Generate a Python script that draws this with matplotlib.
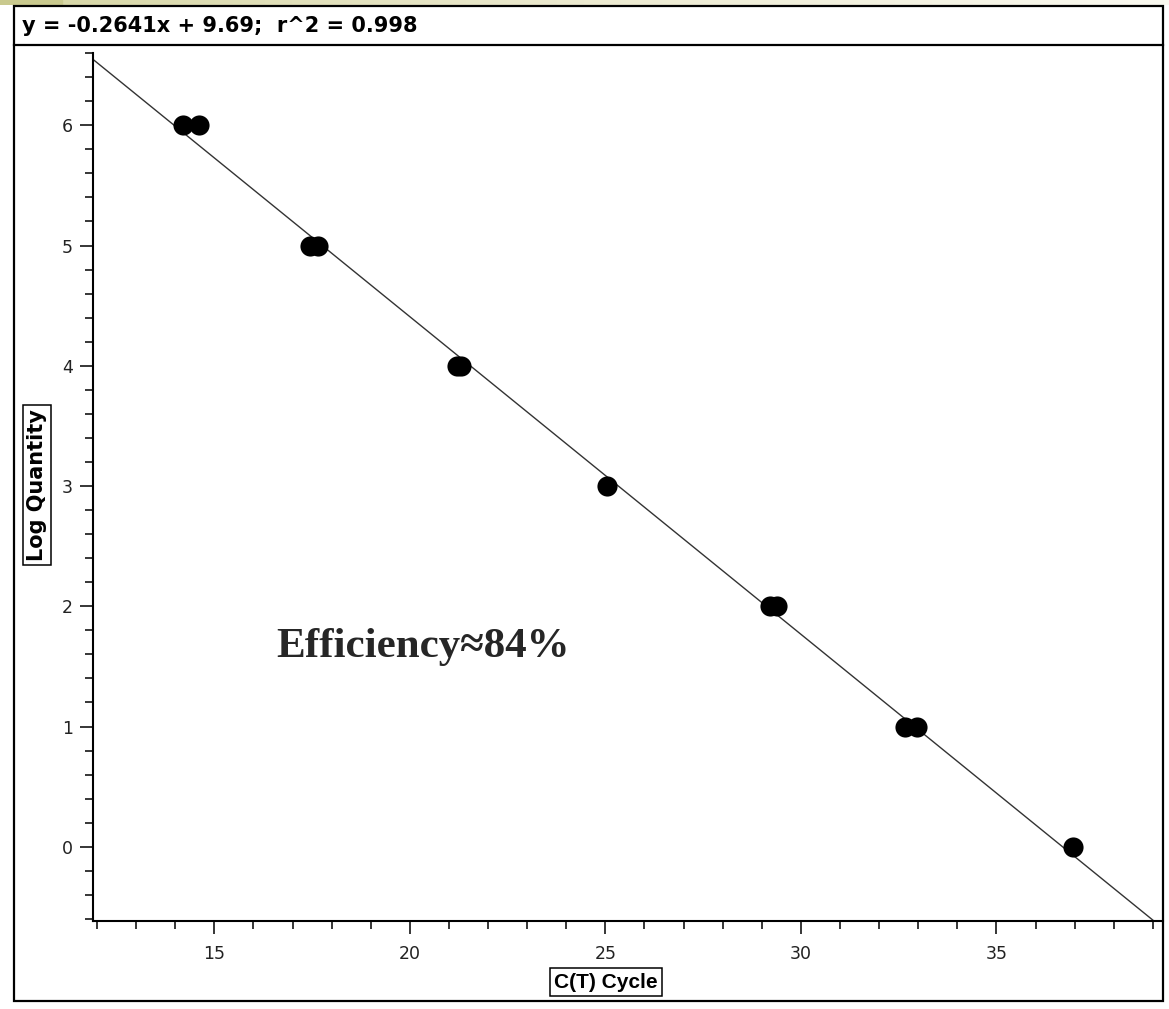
import matplotlib
matplotlib.use("Agg")
import matplotlib.pyplot as plt
import numpy as np
from matplotlib.ticker import MultipleLocator
from matplotlib.patches import Rectangle
from matplotlib.lines import Line2D

# standard curve data (C(T) cycle vs log quantity)
ct = [14.2, 14.6, 17.45, 17.65, 21.2, 21.32, 25.05, 29.22, 29.4, 32.66, 32.97, 36.97]
logq = [6, 6, 5, 5, 4, 4, 3, 2, 2, 1, 1, 0]
slope, intercept, r2 = -0.2641, 9.69, 0.998
x_ticks = [15, 20, 25, 30, 35]
y_ticks = [0, 1, 2, 3, 4, 5, 6]

W, H = 1169, 1009
fig = plt.figure(figsize=(W / 100, H / 100), dpi=100)

def fx(px):
    return px / W

def fy(py):
    return 1 - py / H

# decorative strip at the very top
strip = fig.add_axes([0, fy(5), 1, 5 / H])
grad = np.linspace(0, 1, 256)[None, :]
strip.imshow(grad, aspect="auto", cmap=matplotlib.colors.LinearSegmentedColormap.from_list(
    "s", ["#d6d6a4", "#ecead0", "#faf9f0"]), extent=[0, 1, 0, 1])
strip.add_patch(Rectangle((0, 0), 62 / W, 1, color="#c9c98e"))
strip.set_xlim(0, 1)
strip.axis("off")

# outer frame and title divider
fig.patches.append(Rectangle((fx(14), fy(1001)), fx(1163) - fx(14), fy(6) - fy(1001),
                             transform=fig.transFigure, fill=False, lw=1.6, ec="black"))
fig.lines.append(Line2D([fx(14), fx(1163)], [fy(45), fy(45)], transform=fig.transFigure,
                        lw=1.6, color="black"))
fig.text(fx(22), fy(26), f"y = {slope}x + {intercept};  r^2 = {r2}", fontsize=15,
         fontweight="bold", family="DejaVu Sans", va="center", ha="left")

ax = fig.add_axes([fx(93.3), fy(920.7), fx(1163) - fx(93.3), fy(53) - fy(920.7)])
ax.set_xlim(11.905, 39.26)
ax.set_ylim(-0.615, 6.601)

xs = np.array(ax.get_xlim())
ax.plot(xs, slope * xs + intercept, color="#333333", lw=1.0)
ax.plot(ct, logq, "o", color="black", markersize=14.5, markeredgewidth=0)

for s in ["top", "right"]:
    ax.spines[s].set_visible(False)
for s in ["left", "bottom"]:
    ax.spines[s].set_linewidth(1.5)

ax.set_xticks(x_ticks)
ax.set_yticks(y_ticks)
ax.xaxis.set_minor_locator(MultipleLocator(1))
ax.yaxis.set_minor_locator(MultipleLocator(0.2))
ax.tick_params(which="major", length=9.5, width=1.1, labelsize=12.5, labelcolor="#222222")
ax.tick_params(which="minor", length=5.5, width=1.1)
ax.tick_params(axis="x", which="major", pad=8)
ax.tick_params(axis="y", which="major", pad=5)

fig.text(fx(37), fy(485), "Log Quantity", rotation=90, fontsize=15, fontweight="bold",
         family="DejaVu Sans", ha="center", va="center",
         bbox=dict(boxstyle="square,pad=0.2", fc="white", ec="black", lw=1.1))
fig.text(fx(606), fy(982), "C(T) Cycle", fontsize=15, fontweight="bold",
         family="Liberation Sans", ha="center", va="center",
         bbox=dict(boxstyle="square,pad=0.2", fc="white", ec="black", lw=1.1))

fig.text(fx(276), fy(647), "Efficiency\u224884%", fontsize=31, fontweight="bold",
         family=["Liberation Serif", "DejaVu Serif"], color="#262626", ha="left", va="center")

fig.savefig("out.png", dpi=100)
